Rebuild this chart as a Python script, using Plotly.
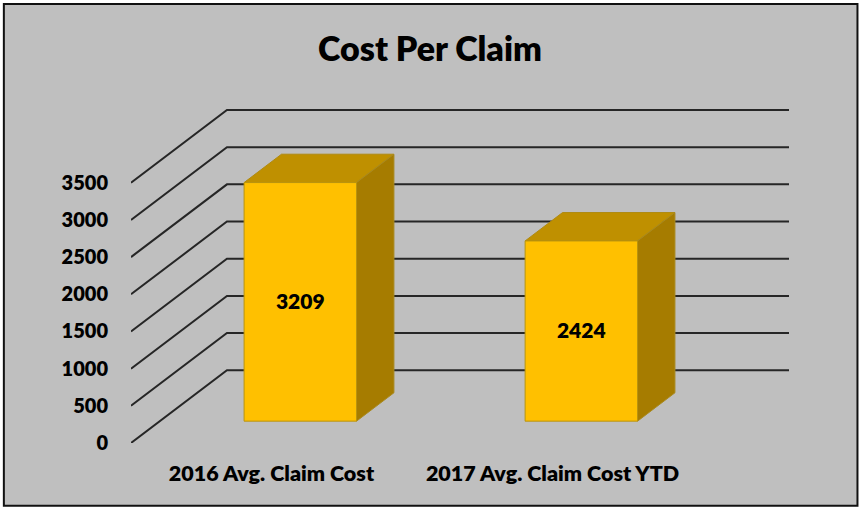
import plotly.graph_objects as go

# Data
categories = ["2016 Avg. Claim Cost", "2017 Avg. Claim Cost YTD"]
values = [3209, 2424]
y_ticks = [0, 500, 1000, 1500, 2000, 2500, 3000, 3500]
title = "Cost Per Claim"

# Canvas layout (pixels)
W, H = 859, 508
L, R, T, B = 130.7, 795.0, 104.0, 442.7
FONT = "Lato"
INK = "#000000"

# Oblique projection, expressed in axis units
px_per_cat = 281.15
px_per_val = 260.0 / 3500
depth_x = 96.0 / px_per_cat
depth_y = 72.7 / px_per_val
bar_w = 0.40
d_front = 0.30     # fraction of the floor depth in front of the bar
d_back = 0.69      # fraction of the floor depth at the back of the bar
label_nudge = 2.0 / px_per_val

x_range = [-0.5, -0.5 + (R - L) / px_per_cat]
y_range = [0, (B - T) / px_per_val]

fig = go.Figure()

# Walls' gridlines
for v in y_ticks:
    fig.add_trace(go.Scatter(
        x=[-0.5, -0.5 + depth_x, 1.5 + depth_x],
        y=[v, v + depth_y, v + depth_y],
        mode="lines", line=dict(color="#262626", width=2),
        cliponaxis=False, hoverinfo="skip", showlegend=False))

# 3D bars
EDGE = "#B8930F"
for i, v in enumerate(values):
    xl = i - bar_w / 2 + d_front * depth_x
    xr = i + bar_w / 2 + d_front * depth_x
    y0 = d_front * depth_y
    y1 = y0 + v
    dx = (d_back - d_front) * depth_x
    dy = (d_back - d_front) * depth_y
    fig.add_trace(go.Scatter(
        x=[xl, xl + dx, xr + dx, xr, xl], y=[y1, y1 + dy, y1 + dy, y1, y1],
        mode="lines", fill="toself", fillcolor="#BF9000",
        line=dict(color="#B08A10", width=1),
        cliponaxis=False, hoverinfo="skip", showlegend=False))
    fig.add_trace(go.Scatter(
        x=[xr, xr + dx, xr + dx, xr, xr], y=[y0, y0 + dy, y1 + dy, y1, y0],
        mode="lines", fill="toself", fillcolor="#A67C00",
        line=dict(color="#A98A20", width=1),
        cliponaxis=False, hoverinfo="skip", showlegend=False))
    fig.add_trace(go.Scatter(
        x=[xl, xr, xr, xl, xl], y=[y0, y0, y1, y1, y0],
        mode="lines", fill="toself", fillcolor="#FFC000",
        line=dict(color=EDGE, width=1),
        cliponaxis=False, hoverinfo="skip", showlegend=False))
    fig.add_trace(go.Scatter(
        x=[(xl + xr) / 2], y=[(y0 + y1) / 2 - label_nudge], mode="text", text=[str(v)],
        textposition="middle center",
        textfont=dict(family=FONT, size=21, color=INK, weight=800),
        cliponaxis=False, hoverinfo="skip", showlegend=False))

pw = R - L
ph = B - T
fig.update_layout(
    width=W, height=H,
    margin=dict(l=L, r=W - R, t=T, b=H - B, autoexpand=False),
    paper_bgcolor="#FFFFFF", plot_bgcolor="rgba(0,0,0,0)",
    showlegend=False,
    title=dict(text=title, x=430 / W, xanchor="center", y=1 - 49 / H, yanchor="middle",
               font=dict(family=FONT, size=34, color=INK, weight=800)),
    xaxis=dict(range=x_range, tickmode="array", tickvals=[0, 1], ticktext=categories,
               showgrid=False, zeroline=False, showline=False, ticks="",
               ticklabelstandoff=15,
               tickfont=dict(family=FONT, size=21.5, color=INK, weight=800)),
    yaxis=dict(range=y_range, tickmode="array", tickvals=y_ticks,
               showgrid=False, zeroline=False, showline=False, ticks="",
               ticklabelstandoff=22,
               tickfont=dict(family=FONT, size=20, color=INK, weight=800)),
    shapes=[dict(type="rect", xref="paper", yref="paper", layer="below",
                 x0=(3.5 - L) / pw, x1=(857.5 - L) / pw,
                 y0=(B - 505.5) / ph, y1=(B - 4) / ph,
                 fillcolor="#BFBFBF", line=dict(color="#111111", width=2))],
)

fig.write_html("out.html", config={"displayModeBar": False},
               post_script="document.body.style.margin='0';document.body.style.overflow='hidden';")
